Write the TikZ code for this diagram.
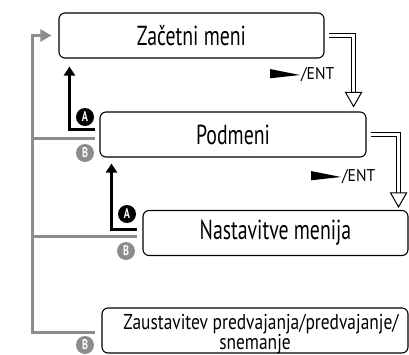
\documentclass[tikz,border=0pt]{standalone}
\usepackage{fontspec}
\setmainfont{PT Sans}[FakeStretch=0.72]
\newfontfamily\entfont{PT Sans}[FakeStretch=0.92]
\newfontfamily\stopfont{PT Sans}[FakeStretch=0.81]
\usetikzlibrary{arrows.meta}
\definecolor{railgray}{HTML}{8C8C8C}
\tikzset{
    menu/.style={rectangle, rounded corners=6pt, draw, line width=1.1pt, inner sep=0pt,
        minimum height=45pt, font=\fontsize{27.5}{30}\selectfont}
}
\tikzset{
    badge/.style={circle, inner sep=0pt, minimum size=18pt, text=white,
        font=\fontsize{14}{14}\selectfont\bfseries},
    back/.style={draw=railgray, line width=3pt},
    fwd/.style={draw=black, line width=3pt},
    dbl/.style={draw=black, double=white, double distance=3pt, line width=1pt},
    ent/.style={inner sep=0pt, anchor=west, font=\entfont\fontsize{17}{18}\selectfont}
}

\begin{document}
\begin{tikzpicture}[x=1pt, y=-1pt]
    \useasboundingbox (0, 0) rectangle (409, 354);

    \node (zm) [menu, minimum width=265pt] at (191.5, 35.5) {Začetni meni};
    \node (pm) [menu, minimum width=266pt] at (233, 134.5) {Podmeni};
    \node (nm) [menu, minimum width=265pt] at (275.5, 233) {Nastavitve menija};
    \node (zs) [menu, minimum width=306pt, font=\stopfont\fontsize{21.5}{15.5}\selectfont]
        at (255, 330.5) {\raisebox{-8.5pt}[22.5pt][22.5pt]{\begin{tabular}{@{}c@{}}
        \hspace*{12pt}Zaustavitev predvajanja/predvajanje/\\snemanje\end{tabular}}};

    \node (a1) [badge, fill=black] at (85, 117) {A};
    \node (b1) [badge, fill=railgray] at (85, 153) {B};
    \node (a2) [badge, fill=black] at (127, 214) {A};
    \node (b2) [badge, fill=railgray] at (126, 251) {B};
    \node (b3) [badge, fill=railgray] at (85, 345) {B};

    \node (e1) [ent] at (301, 75) {/ENT};
    \node (e2) [ent] at (342, 177) {/ENT};

    % back to the start menu
    \coordinate (railtop) at (32, 35.5);
    \draw[back, -{Triangle[length=11pt, width=12pt]}] ([shift={(-6pt,-1.5pt)}]zs.west)
        -| (railtop) -- ([xshift=-7pt]zm.west);
    \draw[back] ([shift={(-4pt,-3.5pt)}]pm.west) -| (railtop);
    \draw[back] ([shift={(-5pt,-3pt)}]nm.west) -| (railtop);

    % one level up
    \draw[fwd, -{Triangle[length=9pt, width=11pt]}] ([shift={(-4pt,5.5pt)}]pm.west)
        -| ([shift={(11pt,-8pt)}]zm.south west);
    \draw[fwd, -{Triangle[length=9pt, width=11pt]}] ([shift={(-5pt,4pt)}]nm.west)
        -| ([shift={(12pt,-6pt)}]pm.south west);

    % one level down
    \coordinate (t1) at ([shift={(-13pt,5pt)}]pm.north east);
    \coordinate (t2) at ([shift={(-10pt,3pt)}]nm.north east);
    \draw[dbl] ([xshift=4pt]zm.east) -| ([yshift=14pt]t1);
    \draw[dbl] ([xshift=4pt]pm.east) -| ([yshift=14pt]t2);
    \draw[fill=white, line width=1pt] ([shift={(-8pt,14pt)}]t1) -- (t1)
        -- ([shift={(8pt,14pt)}]t1) -- cycle;
    \draw[fill=white, line width=1pt] ([shift={(-8pt,14pt)}]t2) -- (t2)
        -- ([shift={(8pt,14pt)}]t2) -- cycle;

    \fill ([shift={(-31pt,6pt)}]e1.west) -- ([shift={(-1pt,0pt)}]e1.west)
        -- ([shift={(-31pt,-3.3pt)}]e1.west) -- cycle;
    \fill ([shift={(-31pt,6pt)}]e2.west) -- ([shift={(-1pt,0pt)}]e2.west)
        -- ([shift={(-31pt,-3.3pt)}]e2.west) -- cycle;
\end{tikzpicture}
\end{document}
